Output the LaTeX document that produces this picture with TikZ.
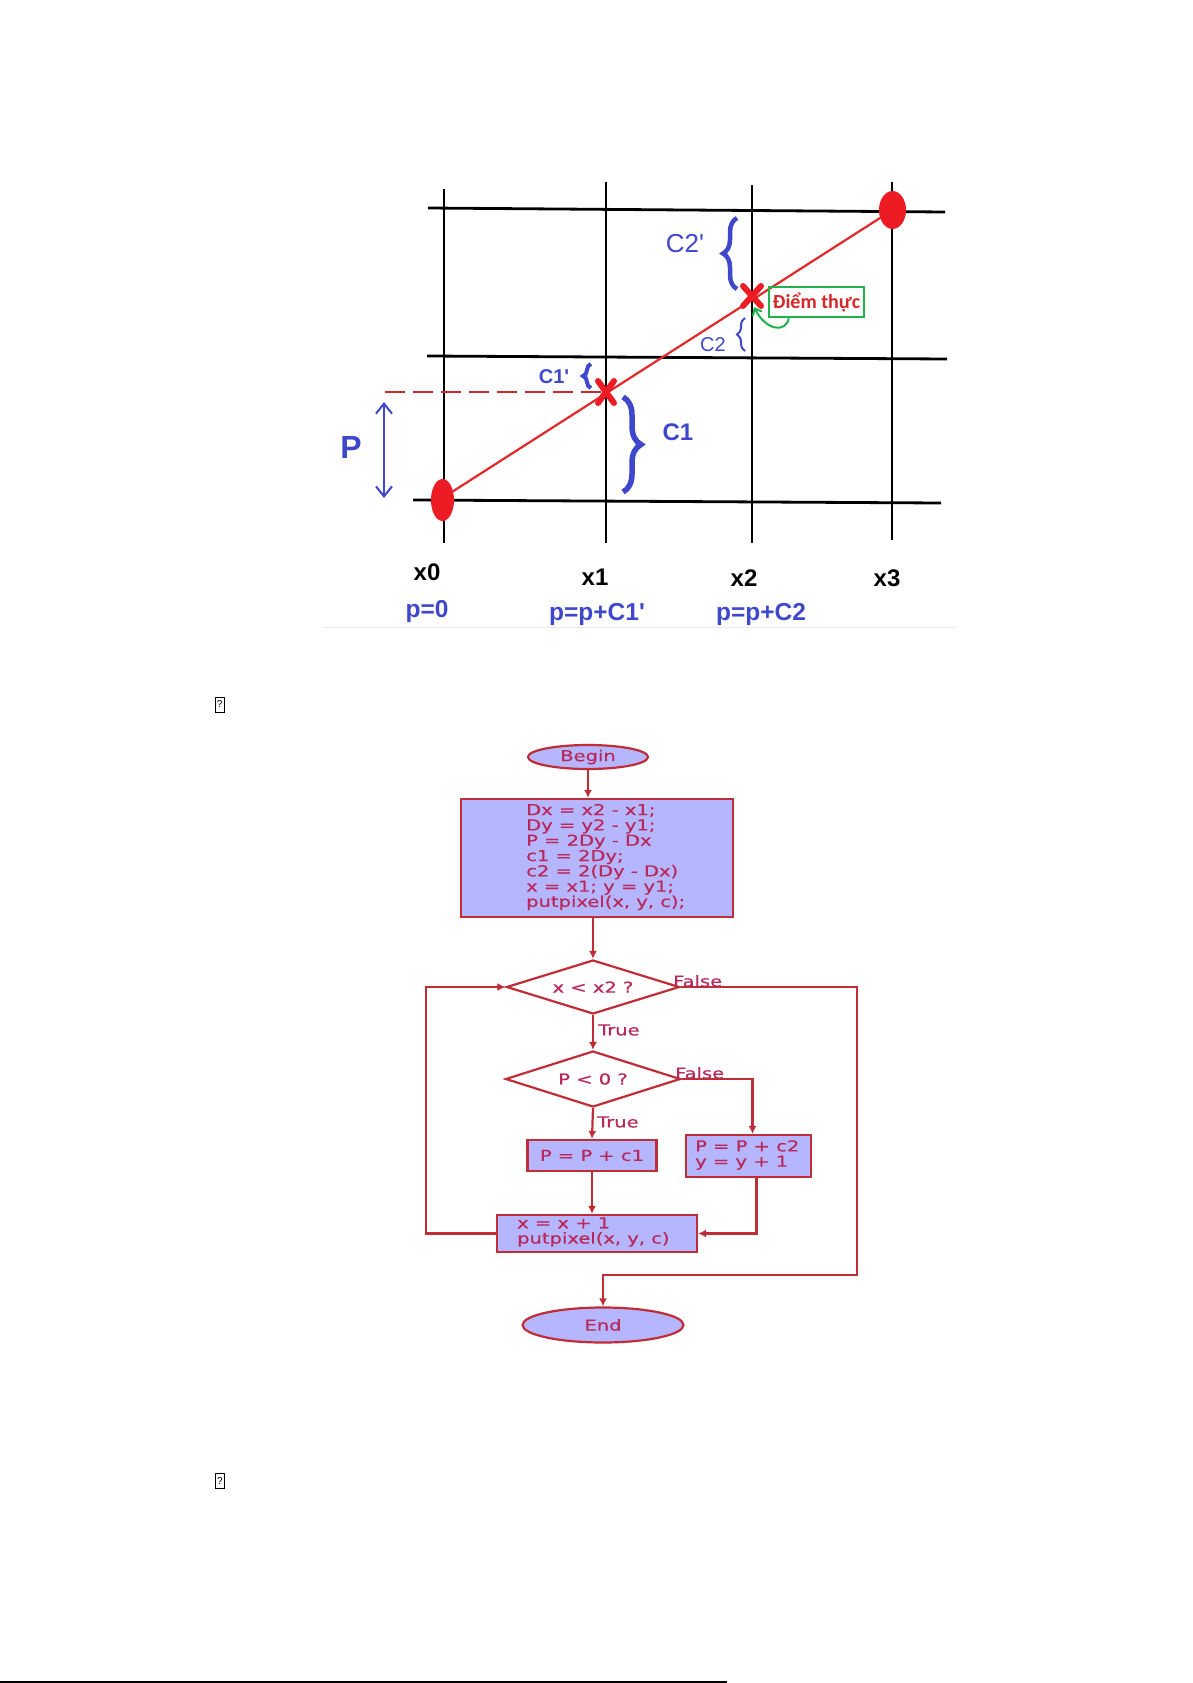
\documentclass[tikz,border=0pt]{standalone}
\usepackage{fontspec}
\setmainfont{Liberation Sans}[Ligatures=TeXOff]
\newfontfamily\flowfont[FakeStretch=1.3,FakeBold=0.6]{DejaVu Sans}
\newfontfamily\calfont{Carlito}
\usetikzlibrary{shapes.geometric, arrows.meta, decorations.pathreplacing}
\definecolor{linered}{RGB}{226,40,40}
\definecolor{markred}{RGB}{237,28,36}
\definecolor{dashred}{RGB}{205,40,45}
\definecolor{pblue}{RGB}{63,72,204}
\definecolor{fgreen}{RGB}{34,177,76}
\definecolor{textred}{RGB}{215,40,40}
\definecolor{flowline}{RGB}{192,45,55}
\definecolor{flowfill}{RGB}{182,182,255}
\definecolor{flowtext}{RGB}{185,40,90}
\tikzset{
  gridline/.style={line width=2.8pt, black},
  lbl/.style={font=\bfseries\fontsize{24}{26}\selectfont, inner sep=0},
  plbl/.style={lbl, text=pblue},
  brc/.style={decorate, decoration={brace, amplitude=#1}, draw=pblue},
  fl/.style={draw=flowline, line width=2.2pt},
  fbox/.style={fl, fill=flowfill, inner sep=0},
  ftxt/.style={font=\flowfont\fontsize{15}{15.3}\selectfont, text=flowtext},
  arr/.style={draw=flowline, line width=2.2pt, -{Latex[length=8pt,width=8pt]}},
  redx/.style={markred, line width=6pt, line cap=round},
  phbox/.style={draw, line width=0.8pt, minimum width=9pt, minimum height=15pt, inner sep=0, font=\fontsize{10}{10}\selectfont}
}
\begin{document}
\begin{tikzpicture}[x=1pt,y=-1pt]
\useasboundingbox (0,0) rectangle (1192,1683);
\fill[white] (0,0) rectangle (1192,1683);

% ---------------- top grid diagram ----------------
\draw[gridline] (444,189) -- (444,543);
\draw[gridline] (606,182) -- (606,543);
\draw[gridline] (752,185) -- (752,543);
\draw[gridline] (892,182) -- (892,540);
\draw[gridline] (428,208) -- (945,212);
\draw[gridline] (427,356) -- (947,359);
\draw[gridline] (413,500) -- (941,503);

\coordinate (p0) at (442.5,498);
\coordinate (p3) at (892.5,210);
\coordinate (c1x) at (606,392);
\coordinate (c2x) at (752,296);
\draw[linered, line width=2.2pt] (p0) -- (p3);
\fill[markred] (442.5,500) ellipse [x radius=11.5, y radius=21];
\fill[markred] (892.5,210) ellipse [x radius=13.5, y radius=19];

\draw[dashred, line width=2.5pt, dash pattern=on 20pt off 8pt] (385,392) -- (c1x);
\draw[redx] ([shift={(-8,-11)}]c1x) -- ([shift={(8,11)}]c1x);
\draw[redx] ([shift={(-8,11)}]c1x) -- ([shift={(8,-11)}]c1x);
\draw[redx] ([shift={(-9,-10)}]c2x) -- ([shift={(9,10)}]c2x);
\draw[redx] ([shift={(-9,10)}]c2x) -- ([shift={(9,-10)}]c2x);

% P arrow
\coordinate (pa) at (384,402);
\coordinate (pb) at (384,498);
\draw[pblue, line width=2pt, {Straight Barb[length=10pt,width=16pt]}-{Straight Barb[length=10pt,width=16pt]}] (pa) -- (pb);
\node[plbl, font=\bfseries\fontsize{32}{34}\selectfont] (P) at (351,447) {P};

% braces
\draw[brc=14, line width=4.5pt] (737,289) -- (737,218);
\draw[brc=8, line width=2pt] (745,351) -- (745,318);
\draw[brc=8, line width=4pt] (591,388) -- (591,364);
\draw[brc=18, line width=5.5pt] (623,397) -- (623,492);

\node[inner sep=0, text=pblue, font=\fontsize{26}{28}\selectfont] (lc2p) at (685,244) {C2'};
\node[inner sep=0, text=pblue, font=\fontsize{20}{22}\selectfont] (lc2) at (713,345) {C2};
\node[inner sep=0, text=pblue, font=\bfseries\fontsize{20}{22}\selectfont] (lc1p) at (554,377) {C1'};
\node[inner sep=0, text=pblue, font=\bfseries\fontsize{24}{26}\selectfont] (lc1) at (678,432) {C1};

% real point label
\node[draw=fgreen, line width=2.5pt, minimum width=95pt, minimum height=30pt, inner sep=0,
      text=textred, font=\calfont\bfseries\fontsize{20}{22}\selectfont] (diem) at (816.5,302) {Điểm thực};
\coordinate (gtip) at (754,307);
\draw[fgreen, line width=2pt, -{Straight Barb[length=6pt,width=10pt]}]
  ([xshift=21pt]diem.south west) .. controls (786,333) and (766,331) .. (gtip);

% axis labels
\node[lbl] (lx0) at (427,572) {x0};
\node[lbl] (lx1) at (595,577) {x1};
\node[lbl] (lx2) at (744,578) {x2};
\node[lbl] (lx3) at (887,578) {x3};
\node[plbl, font=\bfseries\fontsize{24.5}{26}\selectfont] (lp0) at (427,611) {p=0};
\node[plbl, font=\bfseries\fontsize{24.5}{26}\selectfont] (lp1) at (597,614) {p=p+C1'};
\node[plbl, font=\bfseries\fontsize{24.5}{26}\selectfont] (lp2) at (761,614) {p=p+C2};

\draw[gray!15, line width=0.8pt] (322,627) -- (956,627);

% placeholder glyphs
\node[phbox] (ph1) at (219.7,704.5) {?};
\node[phbox] (ph2) at (220,1480.5) {?};

% ---------------- flowchart ----------------
\node[fbox, ellipse, minimum width=120pt, minimum height=24pt, ftxt] (begin) at (588,757) {Begin};
\node[fbox, minimum width=272pt, minimum height=118pt] (init) at (597,858) {};
\node[ftxt, align=left, anchor=west, inner sep=0] (initt) at (526,857)
  {Dx = x2 - x1;\\Dy = y2 - y1;\\P = 2Dy - Dx\\c1 = 2Dy;\\c2 = 2(Dy - Dx)\\x = x1; y = y1;\\putpixel(x, y, c);};
\node[fl, diamond, shape aspect=3.2, fill=white, minimum width=173pt, minimum height=54pt, inner sep=0, ftxt] (d1) at (593,987) {x < x2 ?};
\node[fl, diamond, shape aspect=3.1, fill=white, minimum width=175pt, minimum height=56pt, inner sep=0, ftxt] (d2) at (593,1079) {P < 0 ?};
\node[fbox, minimum width=129pt, minimum height=31pt, ftxt] (b1) at (592,1155.5) {P = P + c1};
\node[fbox, minimum width=125pt, minimum height=42pt] (b2) at (748.5,1156) {};
\node[ftxt, align=left, anchor=west, inner sep=0] (b2t) at (695,1155) {P = P + c2\\y = y + 1};
\node[fbox, minimum width=200pt, minimum height=37pt] (b3) at (597,1233.5) {};
\node[ftxt, align=left, anchor=west, inner sep=0] (b3t) at (517,1232) {x = x + 1\\putpixel(x, y, c)};
\node[fbox, ellipse, minimum width=161pt, minimum height=35pt, ftxt] (end) at (603,1325) {End};

\coordinate (loopx) at (426,987);
\coordinate (rx) at (857,1275);

\draw[arr] (begin.south) -- (begin.south |- init.north);
\draw[arr] (d1.north |- init.south) -- (d1.north);
\draw[arr] (d1.south) -- (d2.north);
\draw[arr] (d2.south) -- (b1.north);
\draw[arr] (d2.east) -| ([xshift=4pt]b2.north);
\draw[arr] (b1.south) -- (b1.south |- b3.north);
\draw[arr] ([xshift=8pt]b2.south) |- (b3.east);
\draw[arr] (b3.west) -| (loopx) -- (d1.west);
\draw[arr] (d1.east) -| (rx) -| (end.north);

\node[ftxt, inner sep=0, anchor=west] (f1) at (673,981) {False};
\node[ftxt, inner sep=0, anchor=west] (t1) at (598,1030) {True};
\node[ftxt, inner sep=0, anchor=west] (f2) at (675,1073) {False};
\node[ftxt, inner sep=0, anchor=west] (t2) at (597,1122) {True};

% bottom rule
\draw[black, line width=1.2pt] (0,1682) -- (727,1682);
\end{tikzpicture}
\end{document}
